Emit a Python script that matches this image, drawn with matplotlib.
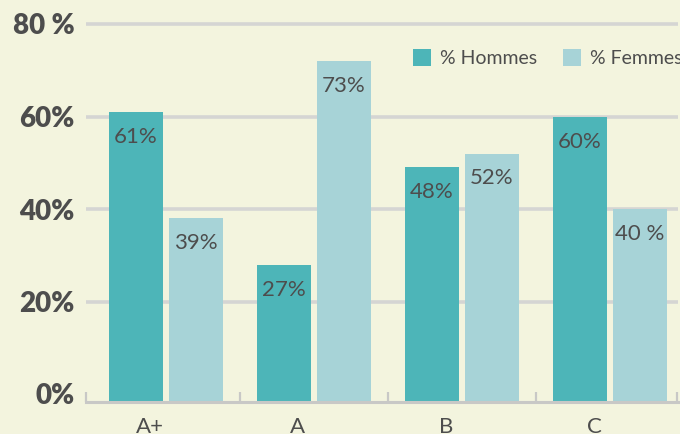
import numpy as np
import matplotlib
matplotlib.use("Agg")
import matplotlib.pyplot as plt
from matplotlib.patches import Patch
from matplotlib.transforms import ScaledTranslation

categories = ["A+", "A", "B", "C"]
hommes = [61, 28, 49, 60]
femmes = [38, 72, 52, 40]
hommes_labels = ["61%", "27%", "48%", "60%"]
femmes_labels = ["39%", "73%", "52%", "40 %"]
y_ticks = [0, 20, 40, 60, 80]
y_tick_labels = ["0%", "20%", "40%", "60%", "80 %"]
series_names = ["% Hommes", "% Femmes"]

BG = "#f3f4de"
TEAL = "#4db5b8"
LIGHT = "#a7d3d7"
GRID = "#d5d5d3"
SPINE = "#c8c8c6"
TXT = "#4d4d4d"

plt.rcParams["font.family"] = ["Lato", "DejaVu Sans"]

fig = plt.figure(figsize=(6.8, 4.34), dpi=100, facecolor=BG)
ax = fig.add_axes([86 / 680, 32 / 434, (678 - 86) / 680, (434 - 32 - 14.75) / 434])
ax.set_facecolor(BG)

px_per_unit = 4.625
y0 = -8 / px_per_unit
ax.set_ylim(y0, 82)
spacing = 148.0
xl = -80 / spacing
xr = (678 - 166) / spacing
ax.set_xlim(xl, xr)

x = np.arange(len(categories))
w = 54 / spacing
off = 30 / spacing

h = np.array(hommes, dtype=float)
f = np.array(femmes, dtype=float)
ax.bar(x - off, h - y0, bottom=y0, width=w, color=TEAL, zorder=2)
ax.bar(x + off, f - y0, bottom=y0, width=w, color=LIGHT, zorder=2)

for xi, v, lab in zip(x - off, h, hommes_labels):
    ax.annotate(lab, (xi, v), xytext=(0, -18), textcoords="offset points",
                ha="center", va="center", fontsize=16, color=TXT, zorder=3)
for xi, v, lab in zip(x + off, f, femmes_labels):
    ax.annotate(lab, (xi, v), xytext=(0, -18), textcoords="offset points",
                ha="center", va="center", fontsize=16, color=TXT, zorder=3)

# gridlines (no line at 0)
for yt in y_ticks[1:]:
    ax.axhline(yt, color=GRID, lw=2.6, zorder=1)

for s in ["top", "right", "left"]:
    ax.spines[s].set_visible(False)
ax.spines["bottom"].set_color(SPINE)
ax.spines["bottom"].set_linewidth(2.2)
ax.spines["bottom"].set_zorder(4)

ax.set_yticks(y_ticks)
ax.set_yticklabels(y_tick_labels, fontsize=20, fontweight="heavy", color=TXT)
ax.tick_params(axis="y", length=0, pad=8)

ax.set_xticks(x)
ax.set_xticklabels(categories, fontsize=16, color=TXT)
ax.tick_params(axis="x", which="major", length=0, pad=11)
for lbl in ax.get_xticklabels():
    lbl.set_transform(lbl.get_transform() + ScaledTranslation(-16 / 100, 0, fig.dpi_scale_trans))

minor_pos = [xl] + list(x[:-1] + 0.5) + [xr - 0.01]
ax.set_xticks(minor_pos, minor=True)
ax.tick_params(axis="x", which="minor", direction="in", length=7.5, width=1.6, color=SPINE)

handles = [Patch(facecolor=TEAL, edgecolor="none"), Patch(facecolor=LIGHT, edgecolor="none")]
leg = fig.legend(handles, series_names, loc="center left",
                 bbox_to_anchor=(413 / 680, 1 - 58 / 434), ncol=2, frameon=False,
                 fontsize=14, handlelength=0.93, handleheight=0.93, handletextpad=0.45,
                 columnspacing=1.35, borderpad=0, borderaxespad=0)
for t in leg.get_texts():
    t.set_color(TXT)

fig.savefig("out.png", dpi=100, facecolor=BG)
